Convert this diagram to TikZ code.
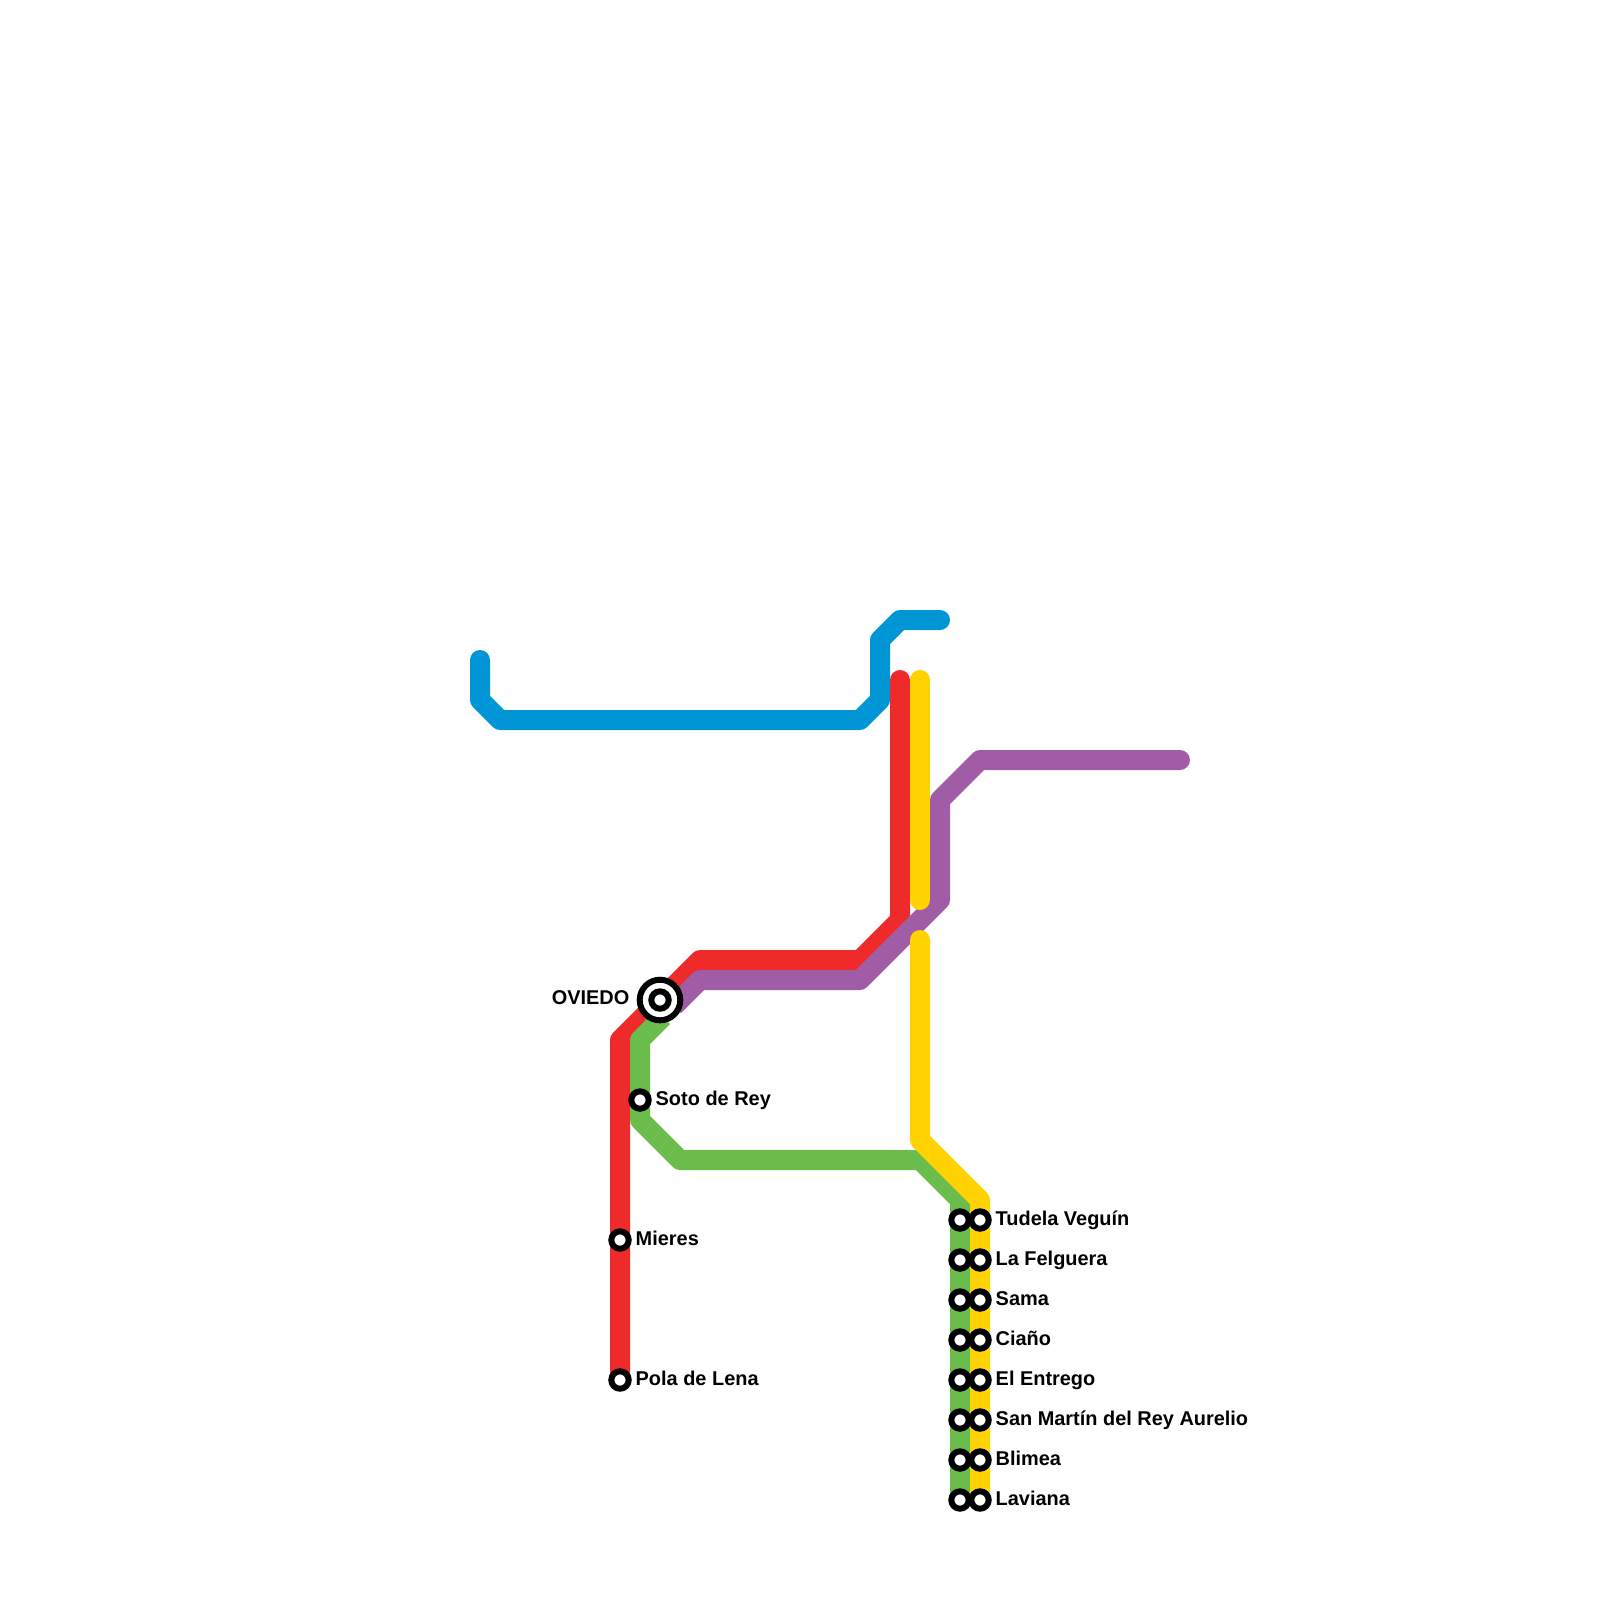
\documentclass[tikz,border=0pt]{standalone}
\usepackage{fontspec}
\setmainfont{Liberation Sans}
\definecolor{lineblue}{HTML}{0096D6}
\definecolor{linered}{HTML}{EE2A2A}
\definecolor{linepurple}{HTML}{A05DA5}
\definecolor{linegreen}{HTML}{6ABD4B}
\definecolor{lineyellow}{HTML}{FFD200}
\tikzset{
  railline/.style={line width=2mm, line join=round},
  stopring/.style={circle, draw=black, fill=white, line width=0.6mm, inner sep=0pt, outer sep=0pt, minimum size=1.74mm},
  bigring/.style={circle, draw=black, fill=white, line width=0.6mm, inner sep=0pt, outer sep=0pt, minimum size=4.06mm},
  stoplabel/.style={inner sep=0pt, font=\bfseries\fontsize{5.67}{6.5}\selectfont, anchor=base west},
  hublabel/.style={inner sep=0pt, font=\bfseries\fontsize{5.67}{6.5}\selectfont, anchor=base east}
}

\begin{document}
\begin{tikzpicture}[x=0.2cm, y=-0.2cm]
    \useasboundingbox (0,0) rectangle (80,80);
    % Lines
    \draw[railline, lineblue, line cap=round] (24,33) -- (24,35) -- (25,36) -- (43,36) -- (44,35) -- (44,32) -- (45,31) -- (47,31);
    \draw[railline, linered, line cap=round] (31,69) -- (31,52) -- (35,48) -- (43,48) -- (45,46) -- (45,34);
    \draw[railline, linepurple, line cap=round] (59,38) -- (49,38) -- (47,40) -- (47,45) -- (43,49) -- (35,49);
    \draw[railline, linepurple] (35,49) -- (33.7,50.3);
    \draw[railline, linegreen] (33.15,50.85) -- (32,52) -- (32,56) -- (34,58) -- (46,58) -- (48,60) -- (48,75);
    % Yellow line, two pieces
    \draw[railline, lineyellow, line cap=round] (46,34) -- (46,45);
    \draw[railline, lineyellow, line cap=round] (46,47) -- (46,57) -- (49,60) -- (49,75);
    % Stations
    \foreach \y/\name in {61/Tudela Veguín, 63/La Felguera, 65/Sama, 67/Ciaño, 69/El Entrego, 71/San Martín del Rey Aurelio, 73/Blimea, 75/Laviana} {
      \node[stopring] (green\y) at (48,\y) {};
      \node[stopring] (yellow\y) at (49,\y) {};
      \node[stoplabel] (label\y) at (49.75,\y+0.25) {\name};
    }
    \node[stopring] (mieres) at (31,62) {};
    \node[stoplabel] (mieresname) at (31.75,62.25) {Mieres};
    \node[stopring] (lena) at (31,69) {};
    \node[stoplabel] (lenaname) at (31.75,69.25) {Pola de Lena};
    \node[stopring] (soto) at (32,55) {};
    \node[stoplabel] (sotoname) at (32.75,55.25) {Soto de Rey};
    % Central station
    \node[bigring] (oviedoouter) at (33,50) {};
    \node[stopring] (oviedo) at (33,50) {};
    \node[hublabel] (oviedoname) at (31.5,50.2) {OVIEDO};
\end{tikzpicture}
\end{document}
